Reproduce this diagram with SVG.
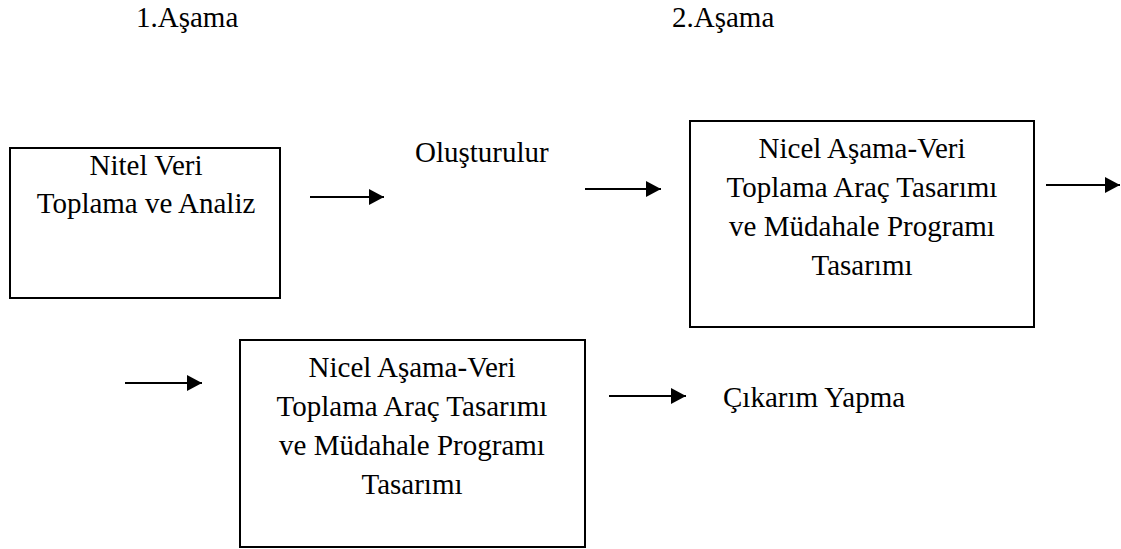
<svg xmlns="http://www.w3.org/2000/svg" width="1121" height="549" viewBox="0 0 1121 549">
<style>
.box{fill:#fff;stroke:#000;stroke-width:2}
.t{font-family:"Liberation Serif","Times New Roman",serif;font-size:29px;fill:#000}
.c{text-anchor:middle}
.conn{stroke:#000;stroke-width:2;fill:none;marker-end:url(#ah)}
</style>
<defs>
<marker id="ah" markerUnits="userSpaceOnUse" markerWidth="16" markerHeight="16" refX="15" refY="8" orient="auto">
<path d="M0,0 L15,8 L0,16 Z" fill="#000"/>
</marker>
</defs>
<rect width="1121" height="549" fill="#fff"/>
<g id="headings">
<text class="t" x="136" y="27">1.Aşama</text>
<text class="t" x="672" y="27">2.Aşama</text>
</g>
<g id="node1">
<rect class="box" x="10" y="148" width="270" height="150"/>
<text class="t c" x="146" y="175">Nitel Veri</text>
<text class="t c" x="146" y="213">Toplama ve Analiz</text>
</g>
<g id="label-olusturulur">
<text class="t" x="415" y="162">Oluşturulur</text>
</g>
<g id="node2">
<rect class="box" x="690" y="121" width="344" height="206"/>
<text class="t c" x="862" y="158">Nicel Aşama-Veri</text>
<text class="t c" x="862" y="197">Toplama Araç Tasarımı</text>
<text class="t c" x="862" y="236">ve Müdahale Programı</text>
<text class="t c" x="862" y="275">Tasarımı</text>
</g>
<g id="node3">
<rect class="box" x="240" y="340" width="345" height="207"/>
<text class="t c" x="412" y="377">Nicel Aşama-Veri</text>
<text class="t c" x="412" y="416">Toplama Araç Tasarımı</text>
<text class="t c" x="412" y="455">ve Müdahale Programı</text>
<text class="t c" x="412" y="494">Tasarımı</text>
</g>
<g id="label-cikarim">
<text class="t" x="723" y="407">Çıkarım Yapma</text>
</g>
<g id="connectors">
<line class="conn" x1="310" y1="197" x2="384" y2="197"/>
<line class="conn" x1="585" y1="189" x2="661" y2="189"/>
<line class="conn" x1="1046" y1="185" x2="1120" y2="185"/>
<line class="conn" x1="125" y1="383" x2="202" y2="383"/>
<line class="conn" x1="609" y1="396" x2="686" y2="396"/>
</g>
</svg>
